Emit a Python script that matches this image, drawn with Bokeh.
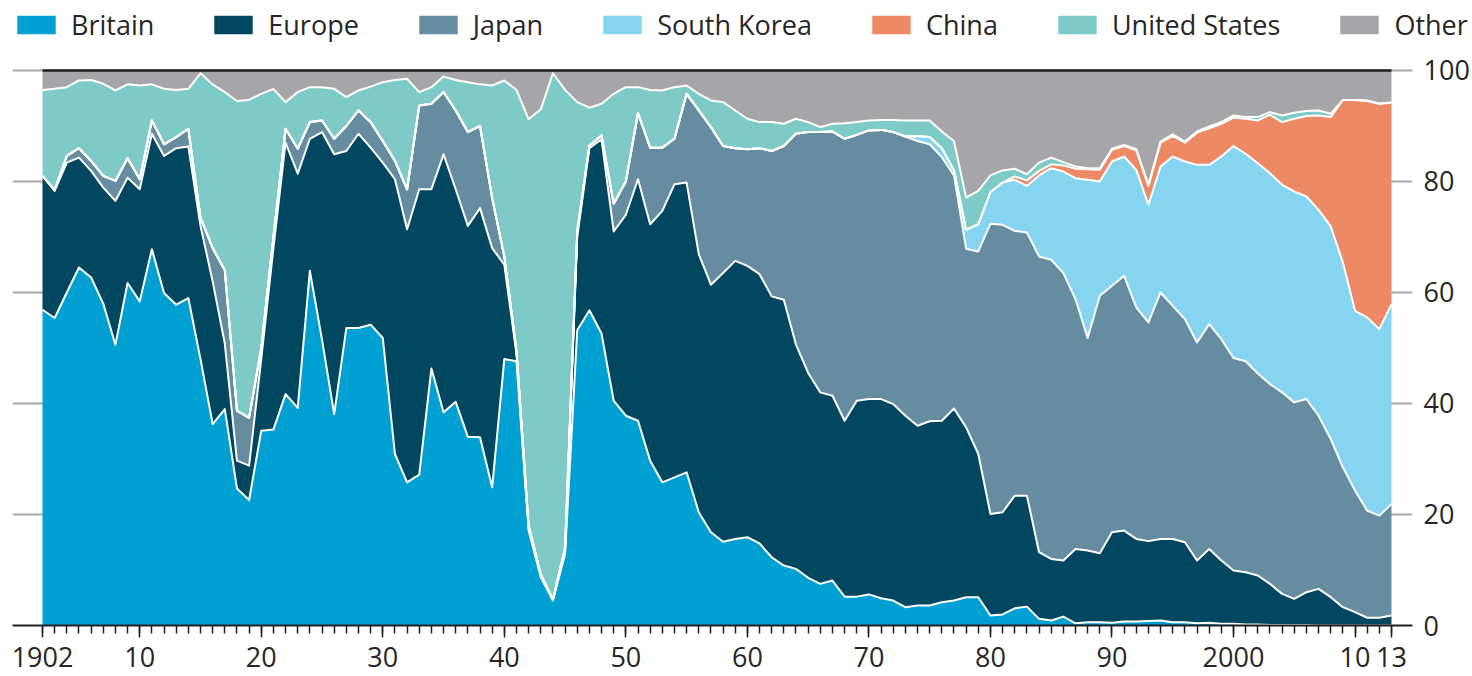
import numpy as np
from bokeh.plotting import figure
from bokeh.layouts import column
from bokeh.models import ColumnDataSource, Legend, LegendItem, FixedTicker, Range1d
from bokeh.embed import file_html
from bokeh.resources import INLINE

years = list(range(1902, 2014))

britain = [56.9, 55.4, 60.0, 64.5, 62.7, 58.0, 50.6, 61.7, 58.4, 67.8,
           59.9, 57.8, 59.0, 48.0, 36.3, 39.0, 24.7, 22.6, 35.1, 35.3,
           41.7, 39.2, 63.9, 51.5, 38.1, 53.6, 53.6, 54.2, 51.8, 30.9,
           25.8, 27.2, 46.3, 38.4, 40.3, 34.0, 33.9, 24.9, 48.0, 47.6,
           17.1, 8.7, 4.5, 12.9, 53.2, 56.8, 52.6, 40.5, 37.8, 36.9,
           29.7, 25.8, 26.7, 27.6, 20.4, 16.8, 15.1, 15.6, 15.9, 14.8,
           12.3, 10.8, 10.2, 8.6, 7.5, 8.1, 5.2, 5.2, 5.6, 4.9,
           4.5, 3.3, 3.6, 3.6, 4.2, 4.5, 5.1, 5.1, 1.8, 2.0,
           3.1, 3.4, 1.2, 0.9, 1.6, 0.4, 0.6, 0.6, 0.5, 0.7,
           0.7, 0.8, 0.9, 0.6, 0.6, 0.4, 0.5, 0.3, 0.3, 0.2,
           0.2, 0.1, 0.1, 0.1, 0.1, 0.0, 0.0, 0.0, 0.0, 0.0,
           0.0, 0.0]

europe = [24.1, 22.9, 23.4, 19.8, 19.2, 20.9, 25.9, 19.0, 20.2, 20.8,
          24.7, 28.2, 27.3, 24.0, 25.7, 11.8, 5.0, 6.2, 12.9, 32.7,
          45.3, 42.2, 23.8, 37.4, 46.8, 31.9, 35.0, 31.9, 31.6, 49.5,
          45.6, 51.4, 32.3, 46.5, 38.3, 38.0, 41.3, 43.1, 17.0, 1.4,
          0.4, 0.3, 0.1, 0.6, 16.8, 29.2, 35.0, 30.5, 36.2, 43.5,
          42.6, 48.9, 52.8, 52.2, 46.5, 44.6, 48.4, 50.1, 48.9, 48.5,
          47.0, 47.9, 40.4, 36.9, 34.5, 33.3, 31.7, 35.3, 35.2, 35.9,
          35.4, 34.5, 32.4, 33.2, 32.7, 34.6, 30.6, 25.8, 18.3, 18.4,
          20.3, 20.0, 12.0, 11.1, 10.1, 13.4, 12.9, 12.4, 16.3, 16.4,
          14.9, 14.4, 14.7, 15.0, 14.4, 11.3, 13.3, 11.4, 9.6, 9.4,
          8.8, 7.4, 5.6, 4.7, 5.9, 6.6, 5.1, 3.3, 2.4, 1.4,
          1.4, 1.8]

japan = [0.0, 0.2, 1.2, 1.7, 1.8, 2.1, 3.6, 3.5, 1.8, 2.4,
         2.1, 2.0, 3.2, 1.5, 6.0, 13.2, 9.0, 8.6, 2.0, 2.0,
         2.5, 4.5, 3.0, 2.1, 2.8, 4.5, 4.2, 4.6, 3.9, 3.3,
         7.2, 15.1, 15.4, 11.2, 14.2, 16.9, 14.8, 9.0, 1.5, 0.5,
         0.5, 0.2, 0.1, 0.5, 1.0, 0.5, 0.7, 5.0, 6.0, 11.9,
         13.8, 11.4, 8.2, 16.0, 25.9, 28.4, 22.9, 20.3, 21.0, 22.7,
         26.2, 27.7, 38.0, 43.4, 46.9, 47.6, 50.8, 47.9, 48.4, 48.5,
         49.0, 50.3, 51.3, 49.9, 47.5, 42.0, 32.2, 36.5, 52.3, 51.8,
         47.7, 47.4, 53.3, 53.9, 51.8, 45.0, 38.3, 46.4, 44.4, 45.9,
         41.7, 39.4, 44.4, 42.0, 40.2, 39.3, 40.5, 39.9, 38.3, 38.0,
         36.4, 36.0, 36.3, 35.4, 34.8, 31.2, 28.5, 25.2, 21.9, 19.3,
         18.4, 20.1]

south_korea = [0.0] * 72 + [
    0.9, 1.3, 1.6, 0.9, 3.4, 4.9, 5.7, 7.6,
    9.2, 8.4, 14.6, 16.5, 18.3, 21.8, 28.5, 20.6, 22.4, 21.5,
    24.8, 21.2, 22.7, 26.9, 28.4, 32.0, 28.7, 32.9, 38.2, 37.4,
    37.9, 38.0, 37.4, 38.0, 36.5, 37.1, 38.3, 36.9, 32.4, 34.8,
    33.6, 36.0]

china = [0.0] * 80 + [
    0.6, 1.0, 0.8, 0.7, 1.1, 1.7, 1.9, 2.1, 2.1, 1.9,
    3.5, 3.4, 4.3, 3.7, 3.4, 5.8, 6.6, 5.9, 5.1, 6.3,
    7.7, 10.5, 11.3, 13.1, 14.5, 17.0, 19.7, 29.3, 38.0, 39.0,
    40.6, 36.3]

united_states = [15.5, 18.2, 12.4, 12.2, 14.6, 16.6, 16.3, 13.3, 16.9, 6.5,
                 10.0, 8.5, 7.2, 26.0, 29.5, 32.1, 55.8, 57.3, 45.8, 26.7,
                 4.8, 10.2, 6.3, 6.0, 9.0, 5.2, 3.6, 6.4, 10.6, 14.6,
                 19.9, 2.4, 3.0, 2.8, 5.5, 9.0, 7.5, 20.3, 31.7, 47.0,
                 73.2, 83.8, 94.8, 82.5, 23.3, 6.8, 5.7, 19.8, 17.0, 4.7,
                 10.4, 10.3, 9.3, 1.5, 3.0, 4.8, 7.9, 6.8, 5.5, 4.7,
                 5.2, 4.0, 2.7, 1.8, 0.9, 1.4, 2.8, 2.3, 1.8, 1.8,
                 2.2, 2.9, 2.8, 3.0, 3.0, 5.3, 5.8, 6.0, 3.0, 2.2,
                 1.4, 1.1, 1.5, 1.2, 0.6, 0.4, 0.2, 0.3, 0.2, 0.2,
                 0.2, 0.2, 0.2, 0.3, 0.2, 0.2, 0.3, 0.3, 0.4, 0.3,
                 0.6, 0.5, 1.2, 1.1, 0.9, 0.9, 0.6, 0.0, 0.0, 0.1,
                 0.0, 0.1]

other = [3.5, 3.3, 3.0, 1.8, 1.7, 2.4, 3.6, 2.5, 2.7, 2.5,
         3.3, 3.5, 3.3, 0.5, 2.5, 3.9, 5.5, 5.3, 4.2, 3.3,
         5.7, 3.9, 3.0, 3.0, 3.3, 4.8, 3.6, 2.9, 2.1, 1.7,
         1.5, 3.9, 3.0, 1.1, 1.7, 2.1, 2.5, 2.7, 1.8, 3.5,
         8.8, 7.0, 0.5, 3.5, 5.7, 6.7, 6.0, 4.2, 3.0, 3.0,
         3.5, 3.6, 3.0, 2.7, 4.2, 5.4, 5.7, 7.2, 8.7, 9.3,
         9.3, 9.6, 8.7, 9.3, 10.2, 9.6, 9.5, 9.3, 9.0, 8.9,
         8.9, 9.0, 9.0, 9.0, 11.0, 12.7, 22.9, 21.7, 18.9, 18.0,
         17.7, 18.7, 16.6, 15.7, 16.5, 17.3, 17.6, 17.6, 14.1, 13.4,
         14.2, 20.6, 12.8, 11.5, 12.8, 11.0, 10.1, 9.3, 8.1, 8.4,
         8.4, 7.5, 8.1, 7.6, 7.3, 7.2, 7.8, 5.3, 5.3, 5.4,
         6.0, 5.7]

series = ["Britain", "Europe", "Japan", "South Korea", "China", "United States", "Other"]
colors = ["#00a0d2", "#01475f", "#658d9f", "#85d4f0", "#ed8a65", "#7ecac6", "#a6a5a8"]

x_ticks = [1902, 1910, 1920, 1930, 1940, 1950, 1960, 1970, 1980, 1990, 2000, 2010, 2013]
x_tick_labels = ["1902", "10", "20", "30", "40", "50", "60", "70", "80", "90", "2000", "10", "13"]
y_ticks = [0, 20, 40, 60, 80, 100]

FONT = "Open Sans"
TEXT = "#262626"

source = ColumnDataSource(dict(year=years, Britain=britain, Europe=europe, Japan=japan,
                               **{"South Korea": south_korea, "China": china,
                                  "United States": united_states, "Other": other}))

# ---- legend strip (full width so no label is clipped) ----
lf = figure(width=1472, height=43, x_range=Range1d(1902, 2013), y_range=Range1d(200, 300),
            output_backend="svg", toolbar_location=None,
            x_axis_location=None, y_axis_location=None,
            min_border=0, min_border_left=0, min_border_right=0,
            min_border_top=0, min_border_bottom=0)
lf.outline_line_color = None
lf.grid.visible = False
lf.background_fill_color = "white"
lf.border_fill_color = "white"

can_unalign = "frame_align" in lf.properties()
if can_unalign:
    lf.frame_align = False
    legend_loc, legend_spacing, legend_size = (12, 0), 55, "27px"
else:
    legend_loc, legend_spacing, legend_size = (0, 0), 44, "26px"

legend_renderers = lf.varea_stack(series, x="year", color=colors, source=source)
legend = Legend(items=[LegendItem(label=n, renderers=[r]) for n, r in zip(series, legend_renderers)],
                location=legend_loc, orientation="horizontal",
                glyph_width=48, glyph_height=23, label_standoff=11, spacing=legend_spacing,
                padding=0, margin=0, border_line_color=None, background_fill_alpha=0,
                label_text_font=FONT, label_text_font_size=legend_size, label_text_color=TEXT)
lf.add_layout(legend)

# ---- main chart ----
p = figure(width=1472, height=633,
           x_range=Range1d(1899.531, 2014.729), y_range=Range1d(0, 101.26),
           output_backend="svg", toolbar_location=None, y_axis_location="right",
           min_border_left=12, min_border_top=20, min_border_right=0, min_border_bottom=51)
if can_unalign:
    p.frame_align = False
p.outline_line_color = None
p.background_fill_color = "white"
p.border_fill_color = "white"

areas = p.varea_stack(series, x="year", color=colors, source=source)
p.vline_stack(series, x="year", source=source,
              line_color=["white"] * 6 + ["#231f20"],
              line_width=[2] * 6 + [2.5], line_join="round")

p.xgrid.visible = False
p.ygrid.ticker = FixedTicker(ticks=y_ticks)
p.ygrid.grid_line_color = "#a8a8a8"
p.ygrid.grid_line_width = 2

xa = p.xaxis[0]
xa.ticker = FixedTicker(ticks=x_ticks, minor_ticks=years)
xa.major_label_overrides = {t: l for t, l in zip(x_ticks, x_tick_labels)}
xa.axis_line_color = "#231f20"
xa.axis_line_width = 2
xa.major_tick_line_color = "#231f20"
xa.minor_tick_line_color = "#231f20"
xa.major_tick_line_width = 1.5
xa.minor_tick_line_width = 1.5
xa.major_tick_in = 0
xa.major_tick_out = 12
xa.minor_tick_in = 0
xa.minor_tick_out = 8
xa.major_label_standoff = 9
xa.major_label_text_font = FONT
xa.major_label_text_font_size = "27px"
xa.major_label_text_color = TEXT

ya = p.yaxis[0]
ya.ticker = FixedTicker(ticks=y_ticks)
ya.axis_line_color = None
ya.major_tick_line_color = None
ya.minor_tick_line_color = None
ya.major_tick_out = 0
ya.major_tick_in = 0
ya.major_label_standoff = 11
ya.major_label_text_font = FONT
ya.major_label_text_font_size = "27px"
ya.major_label_text_color = TEXT

layout = column(lf, p, spacing=0)
open("out.html", "w").write(file_html(layout, INLINE))
